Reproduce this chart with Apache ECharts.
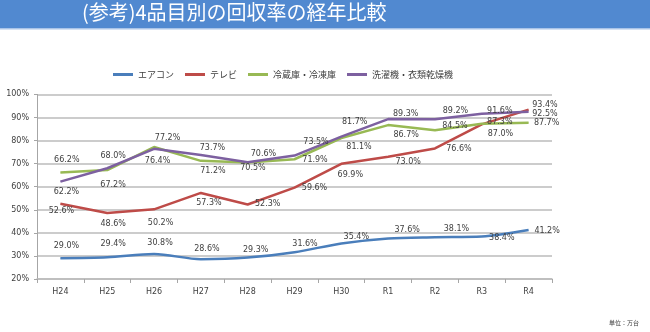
<!DOCTYPE html>
<html>
<head>
<meta charset="utf-8">
<script src="https://cdn.jsdelivr.net/npm/echarts@6/dist/echarts.min.js"></script>
<style>
  html, body { margin: 0; padding: 0; background: #ffffff; }
  #chart { width: 650px; height: 332px; }
</style>
</head>
<body>
<div id="chart"></div>
<script>
// Fiscal years (Heisei / Reiwa)
const categories = ['H24', 'H25', 'H26', 'H27', 'H28', 'H29', 'H30', 'R1', 'R2', 'R3', 'R4'];

// Collection rate (%) per appliance category
const airconRate = [29.0, 29.4, 30.8, 28.6, 29.3, 31.6, 35.4, 37.6, 38.1, 38.4, 41.2];
const tvRate     = [52.6, 48.6, 50.2, 57.3, 52.3, 59.6, 69.9, 73.0, 76.6, 87.0, 93.4];
const fridgeRate = [66.2, 67.2, 77.2, 71.2, 70.5, 71.9, 81.1, 86.7, 84.5, 87.3, 87.7];
const washerRate = [62.2, 68.0, 76.4, 73.7, 70.6, 73.5, 81.7, 89.3, 89.2, 91.6, 92.5];

// Value axis range and tick step
const yMin = 20, yMax = 100, yStep = 10;

const seriesNames = ['エアコン', 'テレビ', '冷蔵庫・冷凍庫', '洗濯機・衣類乾燥機'];
const seriesColors = ['#4A7EBB', '#BE4B48', '#98B954', '#7D60A0'];

// Per-point label shifts [dx, dy] in px from each point, so labels don't collide
const airconLabelShift = [[6,-12],[6,-13],[6,-11],[6,-10],[8,-7.5],[10.5,-8],[15,-7],[19,-8],[21.5,-8],[20,1],[18.5,0.5]];
const tvLabelShift     = [[1,7],[6,11],[6.5,14],[8,10],[20,-1],[20,0.7],[9,11],[20,5.6],[24,0.6],[18.7,10],[16.4,-4.6]];
const fridgeLabelShift = [[6.4,-12.4],[5.8,14.4],[13.5,-8.7],[12,10],[5.3,5.8],[20.5,0.8],[17.7,8.7],[18,10],[20,-4.5],[18,-1.4],[18,0.5]];
const washerLabelShift = [[6,10.7],[6,-12],[3.5,12],[11.6,-7.4],[15.8,-8.2],[21.5,-13.8],[13.4,-14.3],[17.6,-4.8],[20.5,-8.6],[18,-3.1],[16.4,2]];

const labelFont = { fontFamily: 'DejaVu Sans', fontSize: 8, color: '#404040' };
const cjk = '"Noto Sans CJK JP", "Noto Sans", sans-serif';
const SYMBOL_SIZE = 0.5;

function makeSeries(name, values, shifts, color, smooth) {
  const half = SYMBOL_SIZE / 2;
  return {
    name: name,
    type: 'line',
    symbol: 'circle',
    symbolSize: SYMBOL_SIZE,
    showSymbol: true,
    smooth: smooth,
    color: color,
    itemStyle: { color: color },
    lineStyle: { width: 2.5, color: color },
    label: Object.assign({
      show: true,
      align: 'center',
      verticalAlign: 'middle',
      formatter: p => p.value.toFixed(1) + '%'
    }, labelFont),
    labelLayout: { hideOverlap: false },
    emphasis: { disabled: true },
    data: values.map((v, i) => ({
      value: v,
      label: {
        show: true,
        position: [shifts[i][0] + half, shifts[i][1] + half],
        align: 'center',
        verticalAlign: 'middle'
      }
    }))
  };
}

const chart = echarts.init(document.getElementById('chart'), null, { renderer: 'canvas' });
chart.setOption({
  backgroundColor: '#ffffff',
  animation: false,
  graphic: [
    { type: 'rect', left: 0, top: 0, shape: { width: 650, height: 28 }, style: { fill: '#5189D0' }, z: 10 },
    { type: 'rect', left: 0, top: 28, shape: { width: 650, height: 1.5 }, style: { fill: '#A9C4E8' }, z: 10 },
    { type: 'text', left: 82, top: 2.5, z: 11,
      style: { text: '(参考)4品目別の回収率の経年比較', fill: '#ffffff', fontSize: 20, fontFamily: cjk } },
    { type: 'text', right: 11, top: 320, z: 11,
      style: { text: '単位：万台', fill: '#404040', fontSize: 6, fontFamily: cjk } }
  ],
  legend: {
    left: 113,
    top: 70,
    padding: 0,
    itemWidth: 20,
    itemHeight: 3,
    itemGap: 11,
    data: seriesNames.map(n => ({ name: n, icon: 'rect' })),
    textStyle: { fontSize: 9, fontFamily: cjk, color: '#404040' }
  },
  grid: { left: 37, right: 98, top: 94.4, bottom: 53, containLabel: false },
  xAxis: {
    type: 'category',
    data: categories,
    boundaryGap: true,
    axisLine: { show: true, lineStyle: { color: '#BBBBBB', width: 1.5 } },
    axisTick: { show: true, length: 4, lineStyle: { color: '#A6A6A6' } },
    axisLabel: { margin: 9, fontFamily: 'DejaVu Sans', fontSize: 8, color: '#404040' },
    splitLine: { show: false }
  },
  yAxis: {
    type: 'value',
    min: yMin,
    max: yMax,
    interval: yStep,
    axisLine: { show: true, lineStyle: { color: '#A6A6A6', width: 1 } },
    axisTick: { show: true, length: 3, lineStyle: { color: '#A6A6A6' } },
    axisLabel: { margin: 8, formatter: '{value}%', fontFamily: 'DejaVu Sans', fontSize: 8, color: '#404040' },
    splitLine: { show: true, lineStyle: { color: '#BBBBBB', width: 1.5 } }
  },
  series: [
    makeSeries(seriesNames[0], airconRate, airconLabelShift, seriesColors[0], 0.3),
    makeSeries(seriesNames[1], tvRate, tvLabelShift, seriesColors[1], false),
    makeSeries(seriesNames[2], fridgeRate, fridgeLabelShift, seriesColors[2], false),
    makeSeries(seriesNames[3], washerRate, washerLabelShift, seriesColors[3], false)
  ]
});
</script>
</body>
</html>
